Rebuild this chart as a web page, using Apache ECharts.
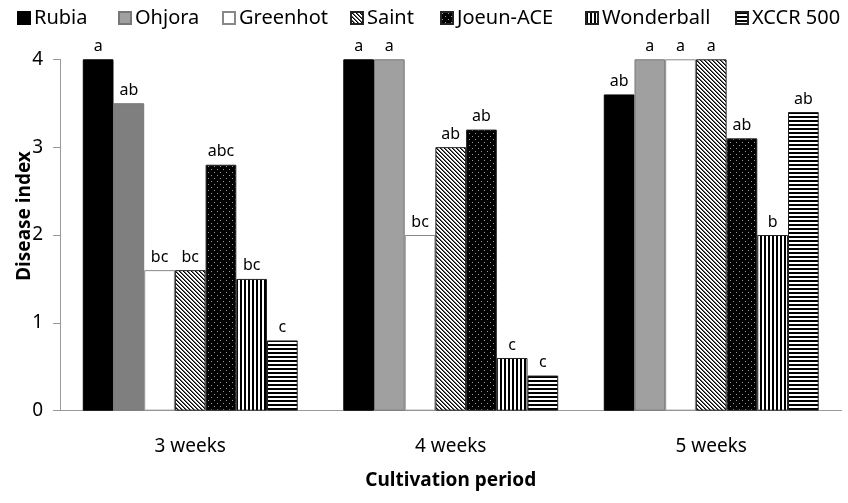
<!DOCTYPE html>
<html><head><meta charset="utf-8">
<script src="https://cdn.jsdelivr.net/npm/echarts@6/dist/echarts.min.js"></script>
<style>html,body{margin:0;padding:0;background:#fff}#c{width:848px;height:503px}</style>
</head><body><div id="c"></div>
<script>
const categories = ['3 weeks', '4 weeks', '5 weeks'];
const seriesNames = ['Rubia', 'Ohjora', 'Greenhot', 'Saint', 'Joeun-ACE', 'Wonderball', 'XCCR 500'];
const rubia = [4.0, 4.0, 3.6];
const ohjora = [3.5, 4.0, 4.0];
const greenhot = [1.6, 2.0, 4.0];
const saint = [1.6, 3.0, 4.0];
const joeun = [2.8, 3.2, 3.1];
const wonderball = [1.5, 0.6, 2.0];
const xccr = [0.8, 0.4, 3.4];
const rubiaLetters = ['a', 'a', 'ab'];
const ohjoraLetters = ['ab', 'a', 'a'];
const greenhotLetters = ['bc', 'bc', 'a'];
const saintLetters = ['bc', 'ab', 'a'];
const joeunLetters = ['abc', 'ab', 'ab'];
const wonderballLetters = ['bc', 'c', 'b'];
const xccrLetters = ['c', 'c', 'ab'];
const yTicks = [0, 1, 2, 3, 4];

function pat(w, h, draw) {
  const c = document.createElement('canvas');
  c.width = w; c.height = h;
  const g = c.getContext('2d');
  draw(g, w, h);
  return { image: c, repeat: 'repeat' };
}
const diag = pat(4, 4, (g) => {
  g.fillStyle = '#fff'; g.fillRect(0, 0, 4, 4);
  g.fillStyle = '#000';
  for (let i = 0; i < 4; i++) { g.fillRect(i, i, 1, 1); }
  g.fillStyle = '#666';
  for (let i = 0; i < 4; i++) { g.fillRect((i + 1) % 4, i, 1, 1); }
});
const dots = pat(6, 6, (g) => {
  g.fillStyle = '#000'; g.fillRect(0, 0, 6, 6);
  g.fillStyle = '#999'; g.fillRect(1, 1, 1, 1); g.fillRect(4, 4, 1, 1);
});
const vstripe = pat(4, 4, (g) => {
  g.fillStyle = '#fff'; g.fillRect(0, 0, 4, 4);
  g.fillStyle = '#000'; g.fillRect(0, 0, 2, 4);
});
const hstripe = pat(4, 4, (g) => {
  g.fillStyle = '#fff'; g.fillRect(0, 0, 4, 4);
  g.fillStyle = '#000'; g.fillRect(0, 0, 4, 2);
});

const values = [rubia, ohjora, greenhot, saint, joeun, wonderball, xccr];
const letters = [rubiaLetters, ohjoraLetters, greenhotLetters, saintLetters, joeunLetters, wonderballLetters, xccrLetters];
const fills = ['#000000', '#a0a0a0', '#ffffff', diag, dots, vstripe, hstripe];
const borders = ['#000', '#777', '#888', '#222', '#222', '#222', '#222'];
const legendLefts = [17, 118, 222, 350, 440, 585, 735];
const FONT = 'Noto Sans';

const series = seriesNames.map((name, i) => ({
  name, type: 'bar', barGap: '0%', barCategoryGap: '17.5%',
  itemStyle: { color: fills[i], borderColor: borders[i], borderWidth: 1 },
  data: values[i].map((v, j) => {
    const d = { value: v, label: { formatter: letters[i][j] } };
    if (i === 1 && j === 0) d.itemStyle = { color: '#7f7f7f' };
    return d;
  }),
  label: { show: true, position: 'top', distance: 5, color: '#000', fontSize: 16, fontFamily: FONT }
}));

const legends = seriesNames.map((name, i) => ({
  data: [name], left: legendLefts[i], top: 8, padding: 0,
  itemWidth: 12, itemHeight: 12, icon: 'rect',
  textStyle: { fontSize: 20, color: '#000', fontFamily: FONT, padding: [0, 0, 0, -1] }
}));

const chart = echarts.init(document.getElementById('c'), null, { renderer: 'canvas' });
chart.setOption({
  animation: false,
  textStyle: { fontFamily: FONT },
  legend: legends,
  grid: { left: 60, right: 6.5, top: 59.3, bottom: 92.3, containLabel: false, outerBoundsMode: 'none' },
  xAxis: {
    type: 'category', data: categories,
    name: 'Cultivation period', nameLocation: 'middle', nameGap: 60,
    nameTextStyle: { fontSize: 19, fontWeight: 'bold', color: '#000', fontFamily: FONT },
    axisLine: { lineStyle: { color: '#999', width: 1 } },
    axisTick: { show: false },
    axisLabel: { fontSize: 19, color: '#000', margin: 26, fontFamily: FONT }
  },
  yAxis: {
    type: 'value', min: yTicks[0], max: yTicks[yTicks.length - 1], interval: 1,
    name: 'Disease index', nameLocation: 'middle', nameGap: 26, nameMoveOverlap: false,
    nameTextStyle: { fontSize: 19, fontWeight: 'bold', color: '#000', fontFamily: FONT, padding: [0, 0, 0, 38] },
    axisLine: { show: true, lineStyle: { color: '#999' } },
    axisTick: { show: true, length: 7, lineStyle: { color: '#999' } },
    splitLine: { show: false },
    axisLabel: { fontSize: 19, color: '#000', margin: 17, fontFamily: FONT }
  },
  series
});
</script></body></html>
